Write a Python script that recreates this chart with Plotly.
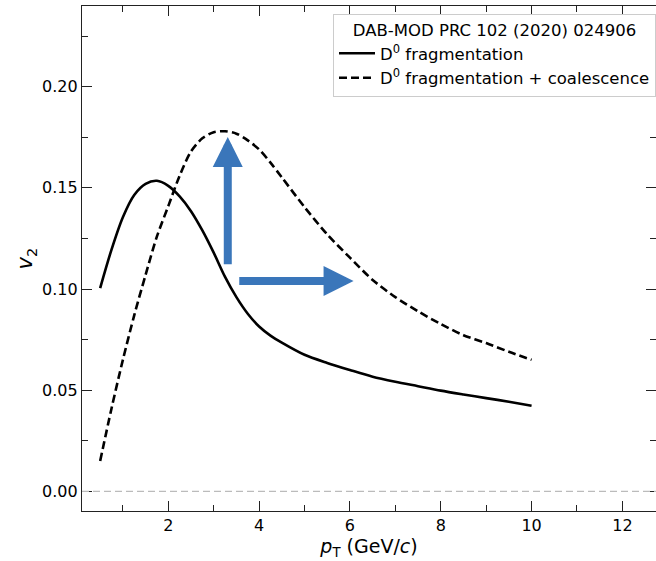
import plotly.graph_objects as go

pt = [0.5, 0.75, 1.0, 1.25, 1.5, 1.75, 2.0, 2.25, 2.5, 2.75, 3.0, 3.25, 3.5, 3.75,
      4.0, 4.25, 4.5, 5.0, 5.5, 6.0, 6.5, 7.0, 7.5, 8.0, 8.5, 9.0, 9.5, 10.0]

v2_frag = [0.1005, 0.1195, 0.1355, 0.1465, 0.1520, 0.1535, 0.1510, 0.1458, 0.1385, 0.1290,
           0.1180, 0.1060, 0.0960, 0.0878, 0.0815, 0.0770, 0.0735, 0.0675, 0.0635, 0.0600,
           0.0567, 0.0542, 0.0520, 0.0498, 0.0479, 0.0461, 0.0443, 0.0423]

v2_coal = [0.015, 0.041, 0.065, 0.087, 0.107, 0.126, 0.141, 0.156, 0.168, 0.1745,
           0.1775, 0.178, 0.1768, 0.1735, 0.169, 0.1625, 0.1552, 0.1405, 0.127, 0.1155,
           0.1045, 0.096, 0.089, 0.0827, 0.0772, 0.0733, 0.069, 0.065]

legend_title = "DAB-MOD PRC 102 (2020) 024906"
names = ["D<sup>0</sup> fragmentation", "D<sup>0</sup> fragmentation + coalescence"]

fig = go.Figure()
fig.add_trace(go.Scatter(x=pt, y=v2_frag, mode="lines", name=names[0],
                         line=dict(color="black", width=2.6, shape="spline", smoothing=0.8)))
fig.add_trace(go.Scatter(x=pt, y=v2_coal, mode="lines", name=names[1],
                         line=dict(color="black", width=2.6, dash="8px,4px", shape="spline",
                                   smoothing=0.8)))

# zero line
fig.add_hline(y=0, line=dict(color="#bbbbbb", width=1.3, dash="7px,4px"))

# blue arrows
arrow_col = "#3a76ba"
fig.add_annotation(x=3.31, y=0.1752, ax=3.31, ay=0.1115, xref="x", yref="y", axref="x", ayref="y",
                   text="", showarrow=True, arrowhead=2, arrowsize=0.75, arrowwidth=8,
                   arrowcolor=arrow_col)
fig.add_annotation(x=6.08, y=0.104, ax=3.53, ay=0.104, xref="x", yref="y", axref="x", ayref="y",
                   text="", showarrow=True, arrowhead=2, arrowsize=0.75, arrowwidth=8,
                   arrowcolor=arrow_col)

axis_common = dict(showline=True, linecolor="#222222", linewidth=1.3, mirror="allticks",
                   ticks="inside", ticklen=10, tickwidth=1, tickcolor="#222222",
                   showgrid=False, zeroline=False,
                   tickfont=dict(family="DejaVu Sans", size=16, color="black"))

fig.update_xaxes(range=[0.1, 12.74], dtick=2, tick0=0,
                 minor=dict(ticks="inside", ticklen=6, dtick=1, tick0=0, tickcolor="#222222"),
                 title=dict(text="<i>p</i><sub>T</sub> (GeV/<i>c</i>)", standoff=4,
                            font=dict(family="DejaVu Sans", size=19, color="black")),
                 **axis_common)
fig.update_yaxes(range=[-0.0097, 0.2399], dtick=0.05, tick0=0, tickformat=".2f",
                 minor=dict(ticks="inside", ticklen=6, dtick=0.025, tick0=0, tickcolor="#222222"),
                 title=dict(text="<i>v</i><sub>2</sub>", standoff=3,
                            font=dict(family="DejaVu Sans", size=21, color="black")),
                 **axis_common)

fig.update_layout(
    width=656, height=561,
    margin=dict(l=82, r=0, t=6, b=50),
    plot_bgcolor="white", paper_bgcolor="white",
    font=dict(family="DejaVu Sans", color="black"),
    legend=dict(x=1, y=0.985, xanchor="right", yanchor="top",
                bgcolor="white", bordercolor="#cccccc", borderwidth=1,
                font=dict(family="DejaVu Sans", size=16.5, color="black"),
                title=dict(text=legend_title, side="top center",
                           font=dict(family="DejaVu Sans", size=16.5, color="black")),
                tracegroupgap=0, itemwidth=36),
    showlegend=True,
)

fig.write_html("out.html", config={"displayModeBar": False},
               post_script=["document.body.style.margin='0';"])
